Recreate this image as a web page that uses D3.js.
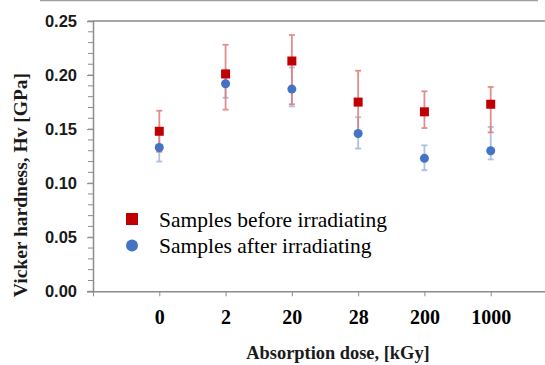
<!DOCTYPE html>
<html>
<head>
<meta charset="utf-8">
<script src="https://cdn.jsdelivr.net/npm/d3@7"></script>
<style>
  body { margin: 0; background: #fff; }
  svg { display: block; }
</style>
</head>
<body>
<svg id="chart" width="545" height="365"></svg>
<script>
// absorption doses (category labels)
var doses = ["0", "2", "20", "28", "200", "1000"];

// samples before irradiating
var before = [0.148, 0.201, 0.213, 0.175, 0.166, 0.173];
var beforeUp = [0.019, 0.027, 0.024, 0.029, 0.019, 0.016];
var beforeDown = [0.019, 0.033, 0.040, 0.028, 0.015, 0.026];

// samples after irradiating
var after = [0.133, 0.192, 0.187, 0.146, 0.123, 0.130];
var afterUp = [0.013, 0.013, 0.020, 0.015, 0.012, 0.022];
var afterDown = [0.013, 0.013, 0.016, 0.014, 0.011, 0.008];

var yMajor = [0, 0.05, 0.10, 0.15, 0.20, 0.25];

var legendLabels = ["Samples before irradiating", "Samples after irradiating"];

var RED = "#c00000", BLUE = "#4472c4";
var RED_ERR = "#e07a7a", BLUE_ERR = "#9fb6e2";

var svg = d3.select("#chart");

var x = d3.scaleLinear().domain([0, 7]).range([93, 557]);
var y = d3.scaleLinear().domain([0, 0.25]).range([291.3, 21]);

// thin line at the very top
svg.append("line")
  .attr("x1", 40).attr("x2", 538).attr("y1", 0.5).attr("y2", 0.5)
  .attr("stroke", "#a0a0a0").attr("stroke-width", 1.5);

// plot top border
svg.append("line")
  .attr("x1", x(0)).attr("x2", 545).attr("y1", y(0.25)).attr("y2", y(0.25))
  .attr("stroke", "#a6a6a6").attr("stroke-width", 2);

// minor y ticks
var minor = d3.range(0, 26).map(function(d) { return d / 100; });
svg.append("g").selectAll("line").data(minor).enter()
  .append("line")
  .attr("x1", x(0) - 5).attr("x2", x(0))
  .attr("y1", function(d) { return y(d); })
  .attr("y2", function(d) { return y(d); })
  .attr("stroke", "#8c8c8c").attr("stroke-width", 1);

// y axis
var yAxis = svg.append("g")
  .attr("transform", "translate(" + x(0) + ",0)")
  .call(d3.axisLeft(y).tickValues(yMajor).tickSize(6).tickPadding(10)
    .tickFormat(d3.format(".2f")));
yAxis.select(".domain").attr("stroke", "#8c8c8c").attr("stroke-width", 1.5);
yAxis.selectAll(".tick line").attr("stroke", "#8c8c8c");
yAxis.selectAll("text")
  .attr("font-family", "'Liberation Sans', Arial, sans-serif")
  .attr("font-weight", "bold").attr("font-size", "16.5px").attr("fill", "#1a1a1a");

// x axis
var xAxis = svg.append("g")
  .attr("transform", "translate(0," + y(0) + ")")
  .call(d3.axisBottom(x).tickValues(d3.range(0, 8)).tickSize(5).tickSizeOuter(0).tickPadding(14)
    .tickFormat(function(d) { return d >= 1 && d <= doses.length ? doses[d - 1] : ""; }));
xAxis.select(".domain").attr("stroke", "#8c8c8c").attr("stroke-width", 1.5);
xAxis.selectAll(".tick line").attr("stroke", "#8c8c8c");
xAxis.selectAll("text")
  .attr("font-family", "'Liberation Serif', 'Times New Roman', serif")
  .attr("font-weight", "bold").attr("font-size", "20px").attr("fill", "#000");

// error bars
function errorBars(vals, up, down, color) {
  var g = svg.append("g").attr("stroke", color).attr("stroke-width", 1.8).attr("opacity", 0.85);
  g.selectAll("line.v").data(vals).enter().append("line").attr("class", "v")
    .attr("x1", function(d, i) { return x(i + 1); })
    .attr("x2", function(d, i) { return x(i + 1); })
    .attr("y1", function(d, i) { return y(d + up[i]); })
    .attr("y2", function(d, i) { return y(d - down[i]); });
  g.selectAll("line.t").data(vals).enter().append("line").attr("class", "t")
    .attr("x1", function(d, i) { return x(i + 1) - 3; })
    .attr("x2", function(d, i) { return x(i + 1) + 3; })
    .attr("y1", function(d, i) { return y(d + up[i]); })
    .attr("y2", function(d, i) { return y(d + up[i]); });
  g.selectAll("line.b").data(vals).enter().append("line").attr("class", "b")
    .attr("x1", function(d, i) { return x(i + 1) - 3; })
    .attr("x2", function(d, i) { return x(i + 1) + 3; })
    .attr("y1", function(d, i) { return y(d - down[i]); })
    .attr("y2", function(d, i) { return y(d - down[i]); });
}
errorBars(after, afterUp, afterDown, BLUE_ERR);
errorBars(before, beforeUp, beforeDown, RED_ERR);

// markers
svg.append("g").selectAll("circle").data(after).enter()
  .append("circle")
  .attr("cx", function(d, i) { return x(i + 1); })
  .attr("cy", function(d) { return y(d); })
  .attr("r", 4.5)
  .attr("fill", BLUE);

svg.append("g").selectAll("rect").data(before).enter()
  .append("rect")
  .attr("x", function(d, i) { return x(i + 1) - 4.5; })
  .attr("y", function(d) { return y(d) - 4.5; })
  .attr("width", 9).attr("height", 9)
  .attr("fill", RED);

// legend
var legend = svg.append("g");
legend.append("rect")
  .attr("x", 126).attr("y", 213).attr("width", 12).attr("height", 12)
  .attr("fill", RED);
legend.append("circle")
  .attr("cx", 132).attr("cy", 245.5).attr("r", 6)
  .attr("fill", BLUE);
legend.selectAll("text").data(legendLabels).enter()
  .append("text")
  .attr("x", 159)
  .attr("y", function(d, i) { return 227 + i * 26; })
  .attr("font-family", "'Liberation Serif', 'Times New Roman', serif")
  .attr("font-size", "21.5px").attr("fill", "#000")
  .text(function(d) { return d; });

// axis titles
svg.append("text")
  .attr("x", 338).attr("y", 359)
  .attr("text-anchor", "middle")
  .attr("font-family", "'Liberation Serif', 'Times New Roman', serif")
  .attr("font-weight", "bold").attr("font-size", "18.4px").attr("fill", "#1a1a1a")
  .text("Absorption dose, [kGy]");

svg.append("text")
  .attr("transform", "translate(27,185) rotate(-90)")
  .attr("text-anchor", "middle")
  .attr("font-family", "'Liberation Serif', 'Times New Roman', serif")
  .attr("font-weight", "bold").attr("font-size", "19.5px").attr("fill", "#1a1a1a")
  .text("Vicker hardness, Hv [GPa]");
</script>
</body>
</html>
